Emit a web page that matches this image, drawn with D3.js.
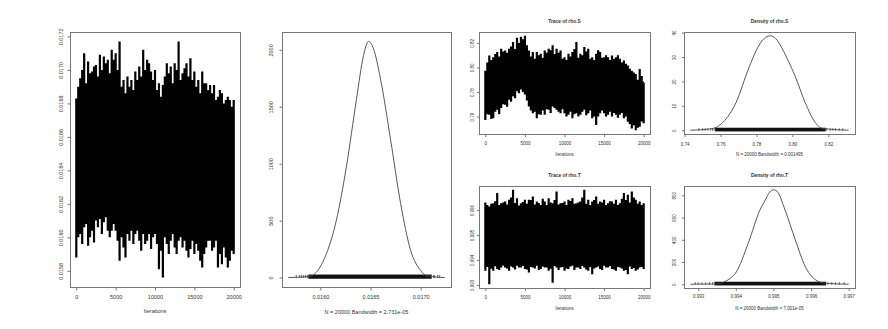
<!DOCTYPE html>
<html lang="en">
<head>
<meta charset="UTF-8">
<title>MCMC trace and density plots</title>
<script src="https://d3js.org/d3.v7.min.js"></script>
<style>
  * { margin: 0; padding: 0; box-sizing: border-box; }
  body { background: #fff; width: 888px; height: 329px; overflow: hidden;
         font-family: 'Liberation Sans', Arial, sans-serif; }
  svg text { fill: #333; }
  .box { fill: none; stroke: #777; stroke-width: 1; }
  .axis line { stroke: #777; }
  .dens { fill: none; stroke: #444; stroke-width: 0.9; }
</style>
</head>
<body>
<svg id="chart" width="888" height="329"></svg>
<script>
// ---- values ----
const spikeIter = d3.range(0, 20001, 250);   // every 250 iterations
const coreIter = d3.range(0, 20001, 1000);   // every 1000 iterations
const iterTicks = [0, 5000, 10000, 15000, 20000];

// main parameter: highest / lowest draw near each iteration, and the solid band
const mainHi = [
  0.01683, 0.01690, 0.01695, 0.01700, 0.01710, 0.01692, 0.01705, 0.01698, 0.01699, 0.01702,
  0.01703, 0.01696, 0.01709, 0.01700, 0.01708, 0.01704, 0.01706, 0.01698, 0.01712, 0.01706,
  0.01710, 0.01700, 0.01717, 0.01690, 0.01694, 0.01686, 0.01696, 0.01690, 0.01694, 0.01688,
  0.01699, 0.01694, 0.01702, 0.01696, 0.01712, 0.01700, 0.01706, 0.01704, 0.01699, 0.01694,
  0.01700, 0.01688, 0.01692, 0.01684, 0.01691, 0.01696, 0.01704, 0.01698, 0.01702, 0.01692,
  0.01704, 0.01700, 0.01717, 0.01694, 0.01698, 0.01701, 0.01704, 0.01696, 0.01707, 0.01694,
  0.01699, 0.01690, 0.01694, 0.01686, 0.01699, 0.01692, 0.01692, 0.01688, 0.01691, 0.01686,
  0.01691, 0.01682, 0.01684, 0.01688, 0.01686, 0.01680, 0.01682, 0.01684, 0.01682, 0.01678,
  0.01682];
const mainLo = [
  0.01588, 0.01600, 0.01602, 0.01596, 0.01606, 0.01608, 0.01595, 0.01600, 0.01604, 0.01597,
  0.01610, 0.01606, 0.01611, 0.01602, 0.01609, 0.01612, 0.01604, 0.01600, 0.01604, 0.01608,
  0.01604, 0.01598, 0.01586, 0.01600, 0.01594, 0.01588, 0.01602, 0.01598, 0.01604, 0.01596,
  0.01602, 0.01604, 0.01598, 0.01592, 0.01602, 0.01596, 0.01598, 0.01602, 0.01593, 0.01600,
  0.01602, 0.01596, 0.01581, 0.01592, 0.01576, 0.01600, 0.01596, 0.01590, 0.01598, 0.01602,
  0.01594, 0.01590, 0.01598, 0.01600, 0.01594, 0.01598, 0.01592, 0.01588, 0.01593, 0.01598,
  0.01590, 0.01596, 0.01592, 0.01586, 0.01582, 0.01590, 0.01594, 0.01598, 0.01598, 0.01592,
  0.01594, 0.01598, 0.01582, 0.01590, 0.01584, 0.01594, 0.01588, 0.01582, 0.01586, 0.01592,
  0.01590];
const mainCoreHi = [0.01678, 0.01688, 0.01690, 0.01696, 0.01698, 0.01696, 0.01684, 0.01684, 0.01688, 0.01690,
  0.01686, 0.01680, 0.01686, 0.01686, 0.01684, 0.01682, 0.01680, 0.01680, 0.01674, 0.01674, 0.01676];
const mainCoreLo = [0.01614, 0.01618, 0.01618, 0.01626, 0.01628, 0.01626, 0.01612, 0.01614, 0.01616, 0.01616,
  0.01612, 0.01606, 0.01612, 0.01612, 0.01610, 0.01608, 0.01604, 0.01606, 0.01604, 0.01604, 0.01606];
const mainDensX = [0.01568, 0.01589, 0.01596, 0.01606, 0.01616, 0.01626, 0.01636, 0.01643, 0.01648,
  0.01653, 0.01660, 0.01670, 0.01680, 0.01690, 0.01700, 0.01706, 0.01724];
const mainDensY = [0, 9, 47, 209, 504, 976, 1566, 1950, 2074, 2009, 1743, 1212, 652, 239, 62, 15, 0];
const mainRugBand = [0.01588, 0.01711];
const mainRugSparse = [0.01576, 0.01579, 0.01581, 0.01583, 0.01585, 0.01587, 0.01713, 0.01714, 0.01717, 0.01719];
const mainYTicks = [0.0158, 0.0160, 0.0162, 0.0164, 0.0166, 0.0168, 0.0170, 0.0172];
const mainDensXTicks = [0.0160, 0.0165, 0.0170];
const mainDensYTicks = [0, 500, 1000, 1500, 2000];

// rho.S
const rhoSHi = [
  0.7973, 0.8040, 0.8098, 0.8060, 0.8084, 0.8110, 0.8125, 0.8090, 0.8153, 0.8130,
  0.8139, 0.8120, 0.8153, 0.8170, 0.8208, 0.8150, 0.8241, 0.8200, 0.8250, 0.8230,
  0.8258, 0.8180, 0.8139, 0.8090, 0.8125, 0.8070, 0.8125, 0.8100, 0.8111, 0.8080,
  0.8139, 0.8120, 0.8153, 0.8140, 0.8181, 0.8110, 0.8153, 0.8120, 0.8139, 0.8070,
  0.8084, 0.8060, 0.8111, 0.8090, 0.8125, 0.8150, 0.8208, 0.8080, 0.8111, 0.8100,
  0.8167, 0.8130, 0.8153, 0.8070, 0.8084, 0.8060, 0.8111, 0.8140, 0.8125, 0.8080,
  0.8084, 0.8100, 0.8084, 0.8060, 0.8098, 0.8070, 0.8084, 0.8100, 0.8070, 0.8040,
  0.8056, 0.8030, 0.8015, 0.7990, 0.7973, 0.7960, 0.7946, 0.7900, 0.7987, 0.7930,
  0.7876];
const rhoSLo = [
  0.7572, 0.7620, 0.7614, 0.7580, 0.7586, 0.7640, 0.7655, 0.7620, 0.7669, 0.7700,
  0.7697, 0.7680, 0.7738, 0.7720, 0.7766, 0.7750, 0.7807, 0.7790, 0.7821, 0.7800,
  0.7780, 0.7730, 0.7683, 0.7650, 0.7627, 0.7640, 0.7586, 0.7620, 0.7614, 0.7650,
  0.7614, 0.7660, 0.7655, 0.7630, 0.7683, 0.7670, 0.7655, 0.7640, 0.7627, 0.7660,
  0.7627, 0.7600, 0.7614, 0.7640, 0.7586, 0.7620, 0.7627, 0.7600, 0.7614, 0.7640,
  0.7655, 0.7610, 0.7627, 0.7650, 0.7586, 0.7600, 0.7531, 0.7600, 0.7627, 0.7650,
  0.7627, 0.7600, 0.7614, 0.7640, 0.7600, 0.7630, 0.7614, 0.7590, 0.7614, 0.7630,
  0.7586, 0.7600, 0.7558, 0.7540, 0.7503, 0.7530, 0.7489, 0.7510, 0.7517, 0.7560,
  0.7545];
const rhoSCoreHi = [0.7920, 0.8030, 0.8055, 0.8095, 0.8135, 0.8120, 0.8000, 0.8030, 0.8055, 0.8040,
  0.8025, 0.8010, 0.8025, 0.8010, 0.8000, 0.8000, 0.7985, 0.7985, 0.7920, 0.7865, 0.7890];
const rhoSCoreLo = [0.7670, 0.7725, 0.7780, 0.7820, 0.7860, 0.7835, 0.7725, 0.7725, 0.7750, 0.7750,
  0.7725, 0.7695, 0.7725, 0.7710, 0.7695, 0.7695, 0.7695, 0.7680, 0.7610, 0.7585, 0.7610];
const rhoSDensX = [0.7432, 0.7540, 0.7576, 0.7613, 0.7686, 0.7760, 0.7815, 0.7850, 0.7879, 0.7906,
  0.7952, 0.7970, 0.8016, 0.8071, 0.8127, 0.8163, 0.8313];
const rhoSDensY = [0, 0.5, 1.2, 3.2, 11.3, 26, 34.9, 38, 38.7, 37.6, 32.2, 29.5, 22, 11.3, 3.2, 0.8, 0];
const rhoSRugBand = [0.7570, 0.8185];
const rhoSRugSparse = [0.7480, 0.7500, 0.7515, 0.7530, 0.7545, 0.7555, 0.7565, 0.8190, 0.8210, 0.8225, 0.8240, 0.8260, 0.8280];
const rhoSYTicks = [0.76, 0.78, 0.80, 0.82];
const rhoSDensXTicks = [0.74, 0.76, 0.78, 0.80, 0.82];
const rhoSDensYTicks = [0, 10, 20, 30, 40];

// rho.T
const rhoTHi = [
  0.99630, 0.99620, 0.99614, 0.99625, 0.99627, 0.99635, 0.99668, 0.99620, 0.99627, 0.99630,
  0.99634, 0.99622, 0.99641, 0.99650, 0.99681, 0.99628, 0.99647, 0.99618, 0.99627, 0.99632,
  0.99641, 0.99625, 0.99641, 0.99640, 0.99654, 0.99622, 0.99634, 0.99628, 0.99620, 0.99645,
  0.99634, 0.99620, 0.99647, 0.99630, 0.99627, 0.99640, 0.99674, 0.99622, 0.99627, 0.99628,
  0.99634, 0.99620, 0.99641, 0.99636, 0.99647, 0.99625, 0.99627, 0.99630, 0.99634, 0.99650,
  0.99681, 0.99625, 0.99641, 0.99620, 0.99634, 0.99640, 0.99654, 0.99625, 0.99634, 0.99630,
  0.99641, 0.99620, 0.99627, 0.99635, 0.99634, 0.99625, 0.99641, 0.99620, 0.99627, 0.99645,
  0.99668, 0.99640, 0.99661, 0.99630, 0.99674, 0.99650, 0.99641, 0.99625, 0.99634, 0.99620,
  0.99627];
const rhoTLo = [
  0.99357, 0.99372, 0.99303, 0.99365, 0.99357, 0.99375, 0.99364, 0.99360, 0.99370, 0.99378,
  0.99370, 0.99366, 0.99357, 0.99374, 0.99370, 0.99362, 0.99377, 0.99370, 0.99370, 0.99376,
  0.99364, 0.99362, 0.99350, 0.99372, 0.99370, 0.99366, 0.99377, 0.99360, 0.99364, 0.99374,
  0.99370, 0.99370, 0.99357, 0.99365, 0.99309, 0.99376, 0.99370, 0.99360, 0.99370, 0.99372,
  0.99357, 0.99366, 0.99364, 0.99374, 0.99377, 0.99360, 0.99370, 0.99370, 0.99364, 0.99376,
  0.99370, 0.99362, 0.99357, 0.99372, 0.99343, 0.99366, 0.99370, 0.99374, 0.99364, 0.99360,
  0.99377, 0.99370, 0.99370, 0.99376, 0.99364, 0.99362, 0.99357, 0.99372, 0.99370, 0.99366,
  0.99357, 0.99360, 0.99343, 0.99374, 0.99364, 0.99368, 0.99357, 0.99362, 0.99370, 0.99372,
  0.99364];
const rhoTCoreHi = [0.99585, 0.99591, 0.99587, 0.99593, 0.99589, 0.99585, 0.99591, 0.99587, 0.99589, 0.99593,
  0.99587, 0.99589, 0.99593, 0.99587, 0.99589, 0.99591, 0.99585, 0.99589, 0.99593, 0.99587, 0.99585];
const rhoTCoreLo = [0.99398, 0.99392, 0.99396, 0.99390, 0.99394, 0.99398, 0.99392, 0.99396, 0.99394, 0.99390,
  0.99396, 0.99394, 0.99392, 0.99396, 0.99394, 0.99390, 0.99398, 0.99394, 0.99390, 0.99396, 0.99398];
const rhoTDensX = [0.99279, 0.99343, 0.99388, 0.99400, 0.99433, 0.99464, 0.99478, 0.99490, 0.99500,
  0.99509, 0.99531, 0.99558, 0.99584, 0.99610, 0.99637, 0.99700];
const rhoTDensY = [0, 2, 59, 104, 370, 667, 756, 830, 850, 838, 667, 400, 163, 44, 9, 0];
const rhoTRugBand = [0.99343, 0.99640];
const rhoTRugSparse = [0.99292, 0.99300, 0.99310, 0.99320, 0.99330, 0.99338, 0.99645, 0.99655, 0.99665, 0.99675, 0.99688];
const rhoTYTicks = [0.993, 0.994, 0.995, 0.996];
const rhoTDensXTicks = [0.993, 0.994, 0.995, 0.996, 0.997];
const rhoTDensYTicks = [0, 200, 400, 600, 800];

// ---- drawing ----
const svg = d3.select("#chart");

// R style axis limits: data range stretched by 4% on each side
function pad([lo, hi]) {
  const d = (hi - lo) * 0.04;
  return [lo - d, hi + d];
}

function frame(p) {
  const g = svg.append("g");
  g.append("rect").attr("class", "box")
    .attr("x", p.x0 + 0.5).attr("y", p.y0 + 0.5)
    .attr("width", p.x1 - p.x0).attr("height", p.y1 - p.y0);

  // x axis
  const ax = g.append("g").attr("class", "axis")
    .attr("transform", `translate(0,${p.y1 + 0.5})`)
    .call(d3.axisBottom(p.x).tickValues(p.xTicks).tickSize(p.tl).tickFormat(p.xFmt));
  ax.select(".domain").remove();
  ax.selectAll("text").attr("y", p.xLab).attr("dy", "0.35em")
    .style("font-size", p.fs + "px").attr("fill", "#333");

  // y axis, labels parallel to the axis
  const ay = g.append("g").attr("class", "axis")
    .attr("transform", `translate(${p.x0 + 0.5},0)`)
    .call(d3.axisLeft(p.y).tickValues(p.yTicks).tickSize(p.tl).tickFormat(p.yFmt));
  ay.select(".domain").remove();
  ay.selectAll("text")
    .attr("x", 0).attr("y", -p.yLab).attr("dy", "0.35em")
    .attr("transform", "rotate(-90)")
    .attr("text-anchor", "middle")
    .style("font-size", p.fs + "px").attr("fill", "#333");

  if (p.title) {
    g.append("text").attr("x", (p.x0 + p.x1) / 2).attr("y", p.titleY)
      .attr("text-anchor", "middle").attr("dy", "0.35em")
      .style("font-size", p.fts + "px").style("font-weight", "bold")
      .text(p.title);
  }
  g.append("text").attr("x", (p.x0 + p.x1) / 2).attr("y", p.y1 + p.xTitle)
    .attr("text-anchor", "middle").attr("dy", "0.35em")
    .style("font-size", p.fs + "px")
    .text(p.xTitleText);
  return g;
}

function tracePanel(p, hi, lo, coreHi, coreLo) {
  p.x = d3.scaleLinear().domain(pad([0, 20000])).range([p.x0, p.x1]);
  p.y = d3.scaleLinear().domain(pad(d3.extent(hi.concat(lo)))).range([p.y1, p.y0]);
  p.xTicks = iterTicks;
  p.xFmt = d3.format("d");
  p.xTitleText = "Iterations";
  const g = frame(p);

  // the solid black band where the chain spends most of its time
  g.append("path")
    .datum(coreIter)
    .attr("fill", "#000")
    .attr("d", d3.area()
      .x(d => p.x(d))
      .y0((d, i) => p.y(coreLo[i]))
      .y1((d, i) => p.y(coreHi[i])));

  // spikes in one path, so neighbouring strokes merge without seams
  g.append("path")
    .attr("fill", "none")
    .attr("stroke", "#000")
    .attr("stroke-width", p.sw)
    .attr("d", spikeIter.map((d, i) =>
      `M${p.x(d)},${p.y(lo[i])}V${p.y(hi[i])}`).join(""));
}

function densityPanel(p, xs, ys, band, sparse, rugH) {
  p.x = d3.scaleLinear().domain(pad(d3.extent(xs))).range([p.x0, p.x1]);
  p.y = d3.scaleLinear().domain(pad([0, d3.max(ys)])).range([p.y1, p.y0]);
  const g = frame(p);
  const y0 = p.y(0);

  g.append("rect")
    .attr("x", p.x(band[0])).attr("width", p.x(band[1]) - p.x(band[0]))
    .attr("y", y0 - rugH).attr("height", rugH + 1.2)
    .attr("fill", "#111");
  g.selectAll(".rug")
    .data(sparse)
    .join("line")
    .attr("class", "rug")
    .attr("x1", d => p.x(d)).attr("x2", d => p.x(d))
    .attr("y1", y0 + 0.5).attr("y2", y0 - rugH + 0.5)
    .attr("stroke", "#333").attr("stroke-width", 0.8);

  g.append("path")
    .datum(xs)
    .attr("class", "dens")
    .attr("d", d3.line()
      .x(d => p.x(d))
      .y((d, i) => p.y(ys[i]))
      .curve(d3.curveMonotoneX));
}

const big = { tl: 3, fs: 5.5, sw: 2.2 };
const small = { tl: 2.5, fs: 4.5, fts: 4.9, sw: 2.2 };

tracePanel({ ...big, x0: 70, x1: 240, y0: 32, y1: 287, xLab: 10, yLab: 9.3, xTitle: 24,
  yTicks: mainYTicks, yFmt: d3.format(".4f") }, mainHi, mainLo, mainCoreHi, mainCoreLo);

densityPanel({ ...big, x0: 282, x1: 451, y0: 32, y1: 287, xLab: 10, yLab: 11.3, xTitle: 25,
  xTicks: mainDensXTicks, xFmt: d3.format(".4f"),
  yTicks: mainDensYTicks, yFmt: d3.format("d"),
  xTitleText: "N = 20000   Bandwidth = 2.731e-05" },
  mainDensX, mainDensY, mainRugBand, mainRugSparse, 3);

tracePanel({ ...small, x0: 479, x1: 650, y0: 32, y1: 134, xLab: 9, yLab: 7, xTitle: 20,
  title: "Trace of rho.S", titleY: 21,
  yTicks: rhoSYTicks, yFmt: d3.format(".2f") }, rhoSHi, rhoSLo, rhoSCoreHi, rhoSCoreLo);

densityPanel({ ...small, x0: 684, x1: 855, y0: 32, y1: 134, xLab: 10, yLab: 10, xTitle: 20,
  title: "Density of rho.S", titleY: 21,
  xTicks: rhoSDensXTicks, xFmt: d3.format(".2f"),
  yTicks: rhoSDensYTicks, yFmt: d3.format("d"),
  xTitleText: "N = 20000   Bandwidth = 0.001495" },
  rhoSDensX, rhoSDensY, rhoSRugBand, rhoSRugSparse, 2.5);

tracePanel({ ...small, x0: 479, x1: 650, y0: 186, y1: 288, xLab: 9, yLab: 7, xTitle: 20,
  title: "Trace of rho.T", titleY: 175,
  yTicks: rhoTYTicks, yFmt: d3.format(".3f") }, rhoTHi, rhoTLo, rhoTCoreHi, rhoTCoreLo);

densityPanel({ ...small, x0: 684, x1: 855, y0: 186, y1: 288, xLab: 8, yLab: 10, xTitle: 20,
  title: "Density of rho.T", titleY: 175,
  xTicks: rhoTDensXTicks, xFmt: d3.format(".3f"),
  yTicks: rhoTDensYTicks, yFmt: d3.format("d"),
  xTitleText: "N = 20000   Bandwidth = 7.001e-05" },
  rhoTDensX, rhoTDensY, rhoTRugBand, rhoTRugSparse, 2.5);
</script>
</body>
</html>
